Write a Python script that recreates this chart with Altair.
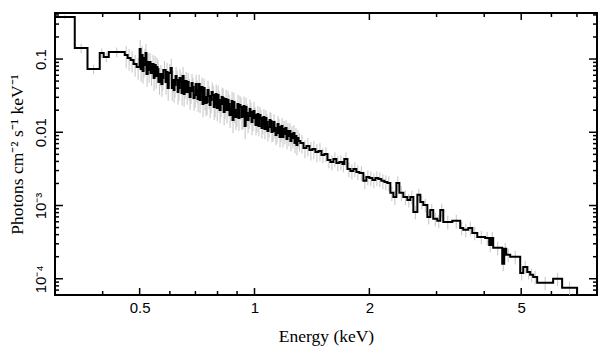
import altair as alt
import pandas as pd

# ---------------- data ----------------
energy_lo = [
    0.300, 0.338, 0.365, 0.393, 0.4025, 0.415, 0.457, 0.465, 0.4735, 0.482, 0.491,
    0.500, 0.503, 0.506, 0.509, 0.512, 0.515, 0.518, 0.521, 0.525, 0.528,
    0.531, 0.534, 0.540, 0.544, 0.547, 0.551, 0.554, 0.557, 0.560, 0.567,
    0.570, 0.574, 0.577, 0.585, 0.588, 0.592, 0.596, 0.603, 0.607, 0.610,
    0.614, 0.617, 0.621, 0.625, 0.629, 0.632, 0.636, 0.640, 0.644, 0.648,
    0.652, 0.656, 0.660, 0.664, 0.668, 0.672, 0.676, 0.680, 0.684, 0.688,
    0.692, 0.697, 0.701, 0.705, 0.709, 0.714, 0.718, 0.722, 0.726, 0.731,
    0.735, 0.740, 0.744, 0.749, 0.753, 0.758, 0.763, 0.767, 0.772, 0.777,
    0.782, 0.786, 0.791, 0.796, 0.801, 0.805, 0.810, 0.815, 0.820, 0.825,
    0.830, 0.835, 0.840, 0.845, 0.850, 0.855, 0.860, 0.866, 0.871, 0.876,
    0.881, 0.886, 0.891, 0.897, 0.902, 0.908, 0.913, 0.919, 0.925, 0.930,
    0.936, 0.942, 0.948, 0.953, 0.959, 0.965, 0.971, 0.976, 0.982, 0.988,
    0.994, 1.000, 1.006, 1.012, 1.018, 1.024, 1.030, 1.037, 1.043, 1.049,
    1.055, 1.062, 1.068, 1.075, 1.081, 1.088, 1.095, 1.101, 1.108, 1.115,
    1.122, 1.128, 1.135, 1.142, 1.149, 1.156, 1.163, 1.170, 1.177, 1.184,
    1.191, 1.198, 1.205, 1.213, 1.220, 1.227, 1.234, 1.242, 1.250, 1.257,
    1.265, 1.273, 1.281, 1.288, 1.296, 1.304,
    1.319, 1.344, 1.368, 1.393, 1.418, 1.444, 1.471, 1.498, 1.525, 1.553,
    1.581, 1.610, 1.639, 1.669, 1.700, 1.720, 1.752, 1.784, 1.816, 1.849,
    1.883, 1.929, 1.964, 2.000, 2.037, 2.074, 2.112, 2.150, 2.190, 2.229,
    2.270, 2.312, 2.354, 2.397, 2.455, 2.515, 2.561, 2.608, 2.672, 2.720,
    2.770, 2.838, 2.888, 2.941, 3.013, 3.068, 3.124, 3.299, 3.461, 3.525,
    3.634, 3.722, 3.836, 4.024, 4.122, 4.172, 4.223, 4.459, 4.513, 4.568,
    4.679, 4.970, 5.061, 5.185, 5.279, 5.375, 5.506, 6.063, 6.401,
]
energy_end = 7.006

flux = [
    0.374, 0.141, 0.0731, 0.1207, 0.1065, 0.1246, 0.1134, 0.1032, 0.0969, 0.0855, 0.0778,
    0.1369, 0.0731, 0.1134, 0.0686, 0.0828, 0.1032, 0.1207, 0.0624, 0.0910, 0.0708,
    0.0910, 0.0644, 0.0855, 0.0551, 0.0828, 0.0586, 0.0778, 0.0731, 0.0486, 0.0624,
    0.0456, 0.0551, 0.0708, 0.0486, 0.0665, 0.0402, 0.0644, 0.0754, 0.0402, 0.0517,
    0.0378, 0.0442, 0.0586, 0.0517, 0.0355, 0.0402, 0.0551, 0.0486, 0.0344, 0.0586,
    0.0333, 0.0428, 0.0501, 0.0355, 0.0486, 0.0402, 0.0303, 0.0366, 0.0471, 0.0415,
    0.0294, 0.0323, 0.0456, 0.0378, 0.0285, 0.0456, 0.0276, 0.0355, 0.0415, 0.0243,
    0.0402, 0.0303, 0.0251, 0.0259, 0.0378, 0.0313, 0.0236, 0.0276, 0.0355, 0.0323,
    0.0221, 0.0243, 0.0333, 0.0215, 0.0323, 0.0276, 0.0201, 0.0243, 0.0303, 0.0294,
    0.0189, 0.0229, 0.0285, 0.0201, 0.0276, 0.0243, 0.0172, 0.0215, 0.0267, 0.0147,
    0.0259, 0.0201, 0.0162, 0.0178, 0.0243, 0.0157, 0.0236, 0.0221, 0.0162, 0.0167,
    0.0229, 0.0122, 0.0221, 0.0183, 0.0147, 0.0167, 0.0208, 0.0189, 0.0138, 0.0157,
    0.0195, 0.0172, 0.0126, 0.0138, 0.0178, 0.0122, 0.0172, 0.0157, 0.0114, 0.0130,
    0.0162, 0.0111, 0.0157, 0.0138, 0.0104, 0.0118, 0.0147, 0.0143, 0.0101, 0.0104,
    0.0138, 0.0114, 0.00919, 0.00978, 0.0130, 0.0118, 0.00863, 0.0101, 0.0122, 0.00863,
    0.0111, 0.00948, 0.0114, 0.00810, 0.0104, 0.00890, 0.0104, 0.00760, 0.00948, 0.00836,
    0.00978, 0.00715, 0.00890, 0.00671, 0.00836, 0.00760,
    0.00715, 0.00611, 0.00650, 0.00573, 0.00592, 0.00538, 0.00556, 0.00490, 0.00506, 0.00419,
    0.00393, 0.00432, 0.00381, 0.00393, 0.00369, 0.00432, 0.00316, 0.00296, 0.00316, 0.00287,
    0.00278, 0.00217, 0.00246, 0.00238, 0.00223, 0.00238, 0.00231, 0.00217, 0.00210, 0.00203,
    0.00149, 0.00131, 0.00203, 0.00149, 0.00131, 0.00119, 0.00131, 0.000818, 0.00140, 0.00112,
    0.00102, 0.000699, 0.00087, 0.000657, 0.000617, 0.00087, 0.000597, 0.000617, 0.000495, 0.000465,
    0.000495, 0.000423, 0.000373, 0.000361, 0.000290, 0.000361, 0.000264, 0.000160, 0.000256, 0.000212,
    0.000199, 0.000120, 0.000145, 0.000124, 0.000113, 0.000106, 0.0000879, 0.0000997, 0.0000751,
]

# typical relative 1-sigma error of the bins, by energy band
err_band_edges = [0.30, 0.34, 0.46, 0.70, 1.00, 1.50, 2.50, 8.00]
err_band_levels = [0.06, 0.15, 0.33, 0.34, 0.28, 0.23, 0.21]

x_major = [0.5, 1, 2, 5]
x_major_labels = ["0.5", "1", "2", "5"]
x_minor = [0.4, 0.6, 0.7, 0.8, 0.9, 3, 4, 6, 7]
y_major = [1e-4, 1e-3, 1e-2, 0.1]
y_major_labels = ["10⁻⁴", "10⁻³", "0.01", "0.1"]
y_mantissas = [2, 3, 4, 5, 6, 7, 8, 9]

x_domain = [0.3, 7.9]
y_domain = [6.0e-5, 0.425]

x_title = "Energy (keV)"
y_title = "Photons cm⁻² s⁻¹ keV⁻¹"

# ---------------- tables ----------------
energy_hi = energy_lo[1:] + [energy_end]
bins = pd.DataFrame({"lo": energy_lo, "hi": energy_hi, "F": flux})
bins["mid"] = (bins["lo"] * bins["hi"]) ** 0.5
bins["rel"] = pd.cut(bins["mid"], bins=err_band_edges, labels=False).map(
    lambda i: err_band_levels[int(i)]
)
bins["elo"] = bins["F"] * (1 - bins["rel"])
bins["ehi"] = bins["F"] * (1 + bins["rel"])

step = pd.DataFrame({
    "E": energy_lo + [energy_end, energy_end],
    "F": flux + [flux[-1], 1e-6],
})

y_minor = [m * 10.0 ** e for e in (-5, -4, -3, -2, -1) for m in y_mantissas]
y_minor = [v for v in y_minor if y_domain[0] < v < y_domain[1]]

W, H = 542, 282
xs = alt.Scale(type="log", domain=x_domain, nice=False)
ys = alt.Scale(type="log", domain=y_domain, nice=False)

x_label_expr = " : ".join(
    f"datum.value == {v} ? '{t}'" for v, t in zip(x_major, x_major_labels)
) + " : ''"
y_label_expr = " : ".join(
    f"abs(log(datum.value) - log({v})) < 0.01 ? '{t}'" for v, t in zip(y_major, y_major_labels)
) + " : ''"

# the same axis definition is given to every layer, so the shared axes merge cleanly
x_axis = alt.Axis(
    values=x_major, labelExpr=x_label_expr, domain=False, ticks=False, grid=False,
    labelFont="Liberation Sans", labelFontSize=15, labelColor="black", labelPadding=5,
    title=x_title, titleFont="Liberation Serif", titleFontSize=17.5,
    titleFontWeight="normal", titleColor="black", titlePadding=12,
)
y_axis = alt.Axis(
    values=y_major, labelExpr=y_label_expr, domain=False, ticks=False, grid=False,
    labelAngle=270, labelAlign="center", labelBaseline="alphabetic",
    labelFont="Liberation Sans", labelFontSize=15, labelColor="black", labelPadding=10,
    title=y_title, titleFont="Liberation Serif", titleFontSize=17.5,
    titleFontWeight="normal", titleColor="black", titlePadding=7,
)

errors = alt.Chart(bins).mark_rule(color="#c4c4c4", strokeWidth=1, clip=True).encode(
    x=alt.X("mid:Q", scale=xs, axis=x_axis),
    y=alt.Y("elo:Q", scale=ys, axis=y_axis),
    y2="ehi:Q",
)

line = alt.Chart(step).mark_line(
    interpolate="step-after", color="black", strokeWidth=2, clip=True
).encode(
    x=alt.X("E:Q", scale=xs, axis=x_axis),
    y=alt.Y("F:Q", scale=ys, axis=y_axis),
)


def xticks(values, length):
    df = pd.DataFrame({"v": values})
    base = alt.Chart(df).mark_rule(color="black", strokeWidth=1.5)
    bottom = base.encode(x=alt.X("v:Q", scale=xs, axis=x_axis), y=alt.value(H), y2=alt.value(H - length))
    top = base.encode(x=alt.X("v:Q", scale=xs, axis=x_axis), y=alt.value(0), y2=alt.value(length))
    return [bottom, top]


def yticks(values, length):
    df = pd.DataFrame({"v": values})
    base = alt.Chart(df).mark_rule(color="black", strokeWidth=1.5)
    left = base.encode(y=alt.Y("v:Q", scale=ys, axis=y_axis), x=alt.value(0), x2=alt.value(length))
    right = base.encode(y=alt.Y("v:Q", scale=ys, axis=y_axis), x=alt.value(W), x2=alt.value(W - length))
    return [left, right]


layers = [errors, line] + xticks(x_major, 7) + xticks(x_minor, 4) + yticks(y_major, 8) + yticks(y_minor, 4)

chart = alt.layer(*layers).properties(
    width=W,
    height=H,
    background="white",
    autosize=alt.AutoSizeParams(type="none"),
    padding={"left": 55, "top": 13, "right": 11, "bottom": 62},
).configure_view(
    stroke="black", strokeWidth=2
)

chart.save("out.html", embed_options={"renderer": "svg", "actions": False})
